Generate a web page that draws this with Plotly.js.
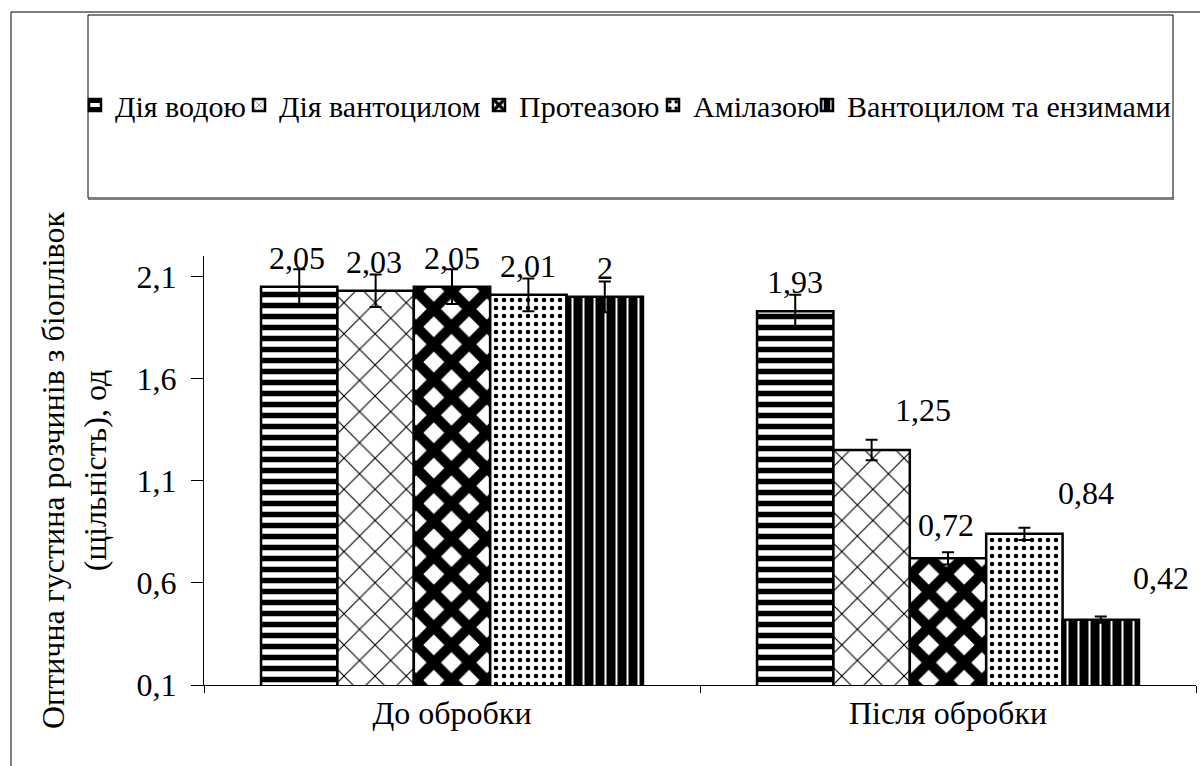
<!DOCTYPE html>
<html><head><meta charset="utf-8">
<script src="https://cdn.plot.ly/plotly-3.0.1.min.js"></script>
<style>html,body{margin:0;padding:0;background:#fff;}#chart{width:1200px;height:766px;}</style>
</head><body><div id="chart"></div>
<script>
// ---- data ----
const categories = ['До обробки', 'Після обробки'];
const seriesNames = ['Дія водою', 'Дія вантоцилом', 'Протеазою', 'Амілазою', 'Вантоцилом та ензимами'];
const waterValues = [2.05, 1.93];
const vantocilValues = [2.03, 1.25];
const proteaseValues = [2.05, 0.72];
const amylaseValues = [2.01, 0.84];
const comboValues = [2.00, 0.42];
const waterErrors = [0.085, 0.08];
const vantocilErrors = [0.08, 0.05];
const proteaseErrors = [0.085, 0.03];
const amylaseErrors = [0.08, 0.03];
const comboErrors = [0.075, 0.015];
const yTickValues = [0.1, 0.6, 1.1, 1.6, 2.1];
const yTickLabels = ['0,1', '0,6', '1,1', '1,6', '2,1'];
const yTitle = 'Оптична густина розчинів з біоплівок<br>(щільність), од';

// ---- style ----
const FONT = 'Liberation Serif';
const FS = 32;
const LEGEND_FS = 30;
const W = 1200, H = 766;
const plotL = 204, plotR = 1196, plotT = 256, plotB = 685;
const bargap = 0.23;
const patterns = [
  {shape: '-', fgcolor: '#000', bgcolor: '#fff', size: 11, solidity: 0.5, fillmode: 'replace'},
  {shape: 'x', fgcolor: '#000', bgcolor: '#fff', size: 22, solidity: 0.1, fillmode: 'replace'},
  {shape: 'x', fgcolor: '#000', bgcolor: '#fff', size: 25, solidity: 0.65, fillmode: 'replace'},
  {shape: '.', fgcolor: '#000', bgcolor: '#fff', size: 8, solidity: 0.25, fillmode: 'replace'},
  {shape: '|', fgcolor: '#fff', bgcolor: '#000', size: 11, solidity: 0.18, fillmode: 'replace'}
];
// label offsets in px [series][category] : [dx, dy above bar top]
const labelOffsets = [
  [[-2, 29], [0, 29]],
  [[-2, 29], [51, 40]],
  [[0, 29], [-2, 33]],
  [[0, 29], [62, 41]],
  [[0, 29], [60, 42]]
];
// legend text start positions (px)
const legendTextPx = [116, 280, 520, 694, 848];
const legendTextOffset = 41;
const legendCenterPy = 105;

const allValues = [waterValues, vantocilValues, proteaseValues, amylaseValues, comboValues];
const allErrors = [waterErrors, vantocilErrors, proteaseErrors, amylaseErrors, comboErrors];

const px2paperX = p => (p - plotL) / (plotR - plotL);
const px2paperY = p => (plotB - p) / (plotB - plotT);

const traces = seriesNames.map((name, i) => ({
  type: 'bar',
  name: name,
  x: categories,
  y: allValues[i],
  legend: i === 0 ? 'legend' : 'legend' + (i + 1),
  marker: {color: patterns[i].bgcolor, line: {color: '#000', width: 2.5}, pattern: patterns[i]},
  error_y: {type: 'data', array: allErrors[i], visible: true, color: '#000', thickness: 2, width: 6},
  hoverinfo: 'skip'
}));

const nSer = seriesNames.length;
const barW = (1 - bargap) / nSer;
const annotations = [];
allValues.forEach((vals, i) => {
  vals.forEach((v, j) => {
    annotations.push({
      x: j + barW * (i - (nSer - 1) / 2), y: v, xref: 'x', yref: 'y',
      text: String(v).replace('.', ','), showarrow: false,
      xanchor: 'center', yanchor: 'middle',
      xshift: labelOffsets[i][j][0], yshift: labelOffsets[i][j][1],
      font: {family: FONT, size: FS, color: '#000'}
    });
  });
});

const layout = {
  width: W, height: H,
  margin: {l: plotL, r: W - plotR, t: plotT, b: H - plotB, pad: 0},
  paper_bgcolor: '#fff', plot_bgcolor: 'rgba(0,0,0,0)',
  font: {family: FONT, size: FS, color: '#000'},
  barmode: 'group', bargap: bargap, bargroupgap: 0,
  separators: ', ',
  xaxis: {
    type: 'category', showline: true, linecolor: '#000', linewidth: 1,
    ticks: 'outside', tickson: 'boundaries', ticklen: 7, tickcolor: '#000',
    showgrid: false, zeroline: false, tickfont: {family: FONT, size: FS}, automargin: false
  },
  yaxis: {
    range: [0.1, 2.2], tickvals: yTickValues, ticktext: yTickLabels,
    showline: true, linecolor: '#000', linewidth: 1,
    ticks: 'outside', ticklen: 12, tickcolor: '#000', ticklabelstandoff: 8,
    showgrid: false, zeroline: false, tickfont: {family: FONT, size: FS}, automargin: false,
    title: {text: yTitle, font: {family: FONT, size: FS}, standoff: 20}
  },
  annotations: annotations,
  shapes: [
    // outer chart border (top gray, left black)
    {type: 'line', xref: 'paper', yref: 'paper', x0: px2paperX(11), x1: px2paperX(1210), y0: px2paperY(12), y1: px2paperY(12), line: {color: '#7f7f7f', width: 2}},
    {type: 'line', xref: 'paper', yref: 'paper', x0: px2paperX(11), x1: px2paperX(11), y0: px2paperY(12), y1: px2paperY(780), line: {color: '#000', width: 1}},
    // legend box
    {type: 'rect', xref: 'paper', yref: 'paper', x0: px2paperX(88), x1: px2paperX(1173), y0: px2paperY(198), y1: px2paperY(15), line: {color: '#000', width: 1}},
    {type: 'line', xref: 'paper', yref: 'paper', x0: px2paperX(88), x1: px2paperX(1174), y0: px2paperY(199), y1: px2paperY(199), line: {color: '#7f7f7f', width: 2}}
  ],
  showlegend: true
};
seriesNames.forEach((n, i) => {
  const key = i === 0 ? 'legend' : 'legend' + (i + 1);
  layout[key] = {
    orientation: 'h', xref: 'container', yref: 'container',
    x: (legendTextPx[i] - legendTextOffset) / W, y: 1 - legendCenterPy / H,
    xanchor: 'left', yanchor: 'middle',
    bgcolor: 'rgba(0,0,0,0)', borderwidth: 0,
    font: {family: FONT, size: LEGEND_FS, color: '#000'}, itemclick: false, itemdoubleclick: false
  };
});

Plotly.newPlot('chart', traces, layout, {staticPlot: true, displayModeBar: false});
</script>
</body></html>
